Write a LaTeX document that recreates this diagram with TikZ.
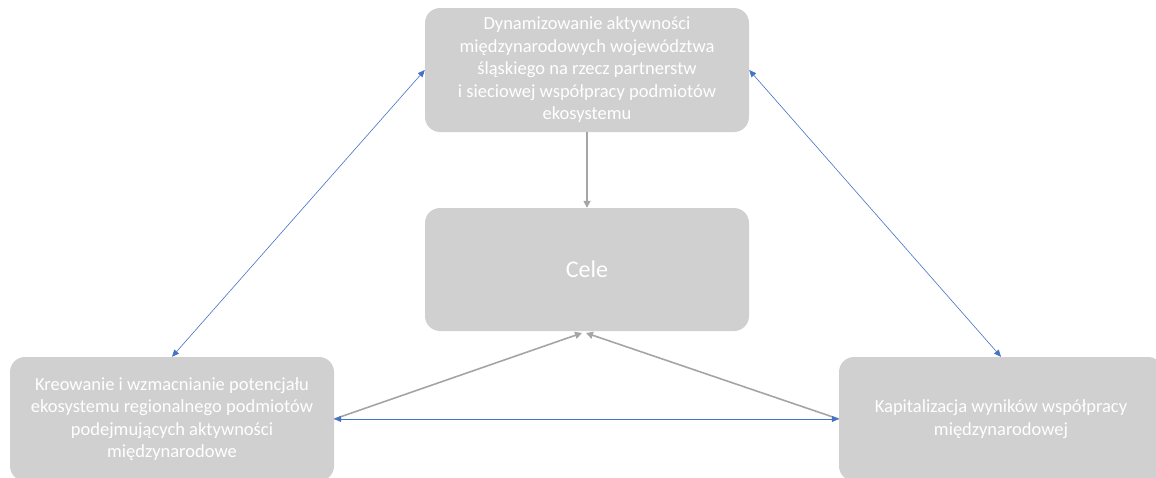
\documentclass[tikz,border=0pt]{standalone}
\usepackage{fontspec}
\setmainfont{Carlito}
\usetikzlibrary{arrows.meta}
\definecolor{boxgray}{HTML}{D0D0D0}
\definecolor{arrgray}{HTML}{A5A5A5}
\definecolor{arrblue}{HTML}{4472C4}
\tikzset{
  box/.style={fill=boxgray, draw=none, rounded corners=15pt, minimum width=324pt, minimum height=124pt, align=center, text=white, font=\fontsize{18.5}{22.5}\selectfont, inner sep=0pt},
  grayarr/.style={draw=arrgray, line width=1.6pt, -{Triangle[length=7pt,width=7pt]}},
  bluearr/.style={draw=arrblue, line width=0.6pt, {Triangle[length=7pt,width=6pt]}-{Triangle[length=7pt,width=6pt]}},
}
\begin{document}
\begin{tikzpicture}[x=1pt,y=-1pt]
\useasboundingbox (0,0) rectangle (1156,477);
\clip (0,0) rectangle (1156,477);
\node[box] (top) at (587,70) {Dynamizowanie aktywności\\międzynarodowych województwa\\śląskiego na rzecz partnerstw\\i sieciowej współpracy podmiotów\\ekosystemu};
\node[box, minimum height=123pt, font=\fontsize{24}{28}\selectfont] (cele) at (587,269.5) {Cele};
\node[box] (left) at (172,419) {Kreowanie i wzmacnianie potencjału\\ekosystemu regionalnego podmiotów\\podejmujących aktywności\\międzynarodowe};
\node[box] (right) at (1001,419) {Kapitalizacja wyników współpracy\\międzynarodowej};
\coordinate (cl) at (582,333);
\coordinate (cr) at (586,333);
\draw[grayarr] (top) -- (cele);
\draw[grayarr] (left.east) -- (cl);
\draw[grayarr] (right.west) -- (cr);
\draw[bluearr] (left.east) -- (right.west);
\draw[bluearr] (top.west) -- (left.north);
\draw[bluearr] (top.east) -- (right.north);
\end{tikzpicture}
\end{document}
